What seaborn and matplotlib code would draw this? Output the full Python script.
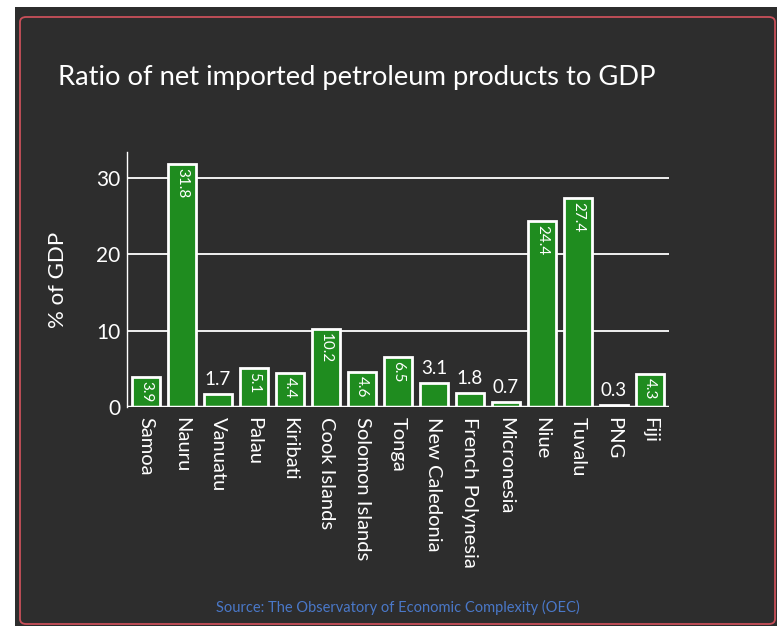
import matplotlib
matplotlib.use("Agg")
import matplotlib.pyplot as plt
import matplotlib.patches as patches
import seaborn as sns
import pandas as pd

countries = ["Samoa", "Nauru", "Vanuatu", "Palau", "Kiribati", "Cook Islands",
             "Solomon Islands", "Tonga", "New Caledonia", "French Polynesia",
             "Micronesia", "Niue", "Tuvalu", "PNG", "Fiji"]
values = [3.9, 31.8, 1.7, 5.1, 4.4, 10.2, 4.6, 6.5, 3.1, 1.8, 0.7, 24.4, 27.4, 0.3, 4.3]
y_ticks = [0, 10, 20, 30]

BG = "#2d2d2d"
GREEN = "#1f8c1f"

sns.set_style("dark")
plt.rcParams["font.family"] = ["Lato", "DejaVu Sans"]

df = pd.DataFrame({"country": countries, "value": values})

fig = plt.figure(figsize=(7.77, 6.26), dpi=100)
fig.patch.set_facecolor("white")

# dark panel with red rounded border
fig.patches.append(patches.Rectangle((15 / 777, 0), 1, 619 / 626, transform=fig.transFigure,
                                     facecolor=BG, edgecolor="none", zorder=-2))
fig.patches.append(patches.FancyBboxPatch((20 / 777, 2 / 626), 755 / 777, 607 / 626,
                                          boxstyle="round,pad=0,rounding_size=0.008",
                                          transform=fig.transFigure, facecolor="none",
                                          edgecolor="#c9505a", linewidth=1.3, zorder=-1))

ax = fig.add_axes([127 / 777, 219 / 626, 542 / 777, 255 / 626])
ax.set_zorder(2)
ax.set_facecolor(BG)

bar_colors = ["white" if v < 0.5 else GREEN for v in values]
sns.barplot(data=df, x="country", y="value", hue="country", palette=bar_colors,
            legend=False, width=0.8, saturation=1, edgecolor="white", linewidth=2,
            ax=ax, zorder=3)

for i, v in enumerate(values):
    if v >= 3.5:
        ax.text(i, v - 0.5, f"{v}", rotation=-90, ha="center", va="top",
                color="white", fontsize=11, zorder=4)
    else:
        ax.text(i, v + 0.8, f"{v}", ha="center", va="bottom",
                color="white", fontsize=13.5, zorder=4)

ax.set_xlim(-0.53, 14.53)
ax.set_ylim(0, 33.4)
ax.set_yticks(y_ticks)
ax.grid(False)
for t in y_ticks[1:]:
    ax.axhline(t, color="white", linewidth=1.3, zorder=1)
ax.axhline(0, color="white", linewidth=2.5, zorder=5)

for s in ["top", "right", "bottom"]:
    ax.spines[s].set_visible(False)
ax.spines["left"].set_color("white")
ax.spines["left"].set_linewidth(1)

ax.tick_params(axis="y", colors="white", labelsize=15, length=0, pad=5)
ax.tick_params(axis="x", colors="white", labelsize=14.5, length=0, pad=7)
plt.setp(ax.get_xticklabels(), rotation=-90, ha="center", va="top")

ax.set_xlabel("")
ax.set_ylabel("% of GDP", color="white", fontsize=16, labelpad=20)

fig.text(58 / 777, 1 - 77 / 626, "Ratio of net imported petroleum products to GDP",
         color="white", fontsize=19.7, ha="left", va="center")
fig.text(398 / 777, 1 - 607 / 626, "Source: The Observatory of Economic Complexity (OEC)",
         color="#4a78c8", fontsize=10.5, ha="center", va="center")

fig.savefig("out.png", dpi=100, facecolor=fig.get_facecolor())
